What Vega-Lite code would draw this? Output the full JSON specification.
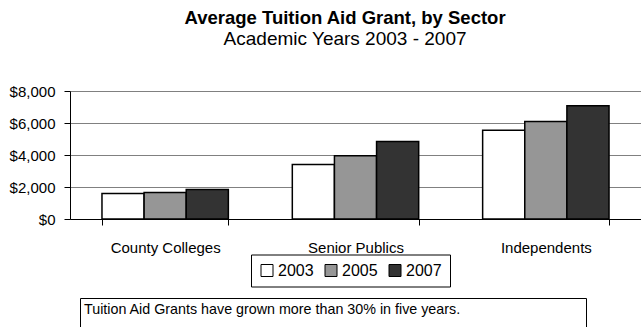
{
  "$schema": "https://vega.github.io/schema/vega-lite/v6.json",
  "padding": {"left": 9, "top": 9, "right": 0, "bottom": 0},
  "background": "white",
  "config": {"font": "Liberation Sans", "view": {"stroke": null}},
  "title": {
    "text": "Average Tuition Aid Grant, by Sector",
    "subtitle": "Academic Years 2003 - 2007",
    "fontSize": 18.5,
    "fontWeight": "bold",
    "subtitleFontSize": 19,
    "subtitleFontWeight": "normal",
    "color": "black",
    "subtitleColor": "black",
    "anchor": "middle",
    "offset": 35.5,
    "subtitlePadding": 2,
    "dx": 20
  },
  "center": false,
  "spacing": 41,
  "vconcat": [
    {
      "width": 571,
      "height": 128,
      "data": {
        "values": [
          {"sector": "County Colleges", "year": "2003", "grant": 1600},
          {"sector": "County Colleges", "year": "2005", "grant": 1650},
          {"sector": "County Colleges", "year": "2007", "grant": 1850},
          {"sector": "Senior Publics", "year": "2003", "grant": 3400},
          {"sector": "Senior Publics", "year": "2005", "grant": 3950},
          {"sector": "Senior Publics", "year": "2007", "grant": 4850},
          {"sector": "Independents", "year": "2003", "grant": 5550},
          {"sector": "Independents", "year": "2005", "grant": 6100},
          {"sector": "Independents", "year": "2007", "grant": 7080}
        ]
      },
      "mark": {"type": "bar", "stroke": "black", "strokeWidth": 1.5},
      "encoding": {
        "x": {
          "field": "sector",
          "type": "nominal",
          "sort": ["County Colleges", "Senior Publics", "Independents"],
          "scale": {"paddingInner": 0.336, "paddingOuter": 0.168},
          "axis": {
            "title": null,
            "labelAngle": 0,
            "tickBand": "extent",
            "domainColor": "black",
            "tickColor": "black",
            "tickSize": 6,
            "labelFontSize": 15,
            "labelColor": "black",
            "labelPadding": 15.5,
            "grid": false
          }
        },
        "xOffset": {
          "field": "year",
          "type": "nominal",
          "sort": ["2003", "2005", "2007"],
          "scale": {"paddingInner": 0, "paddingOuter": 0}
        },
        "y": {
          "field": "grant",
          "type": "quantitative",
          "scale": {"domain": [0, 8000]},
          "axis": {
            "title": null,
            "values": [0, 2000, 4000, 6000, 8000],
            "format": "$,.0f",
            "grid": true,
            "gridColor": "#808080",
            "domainColor": "black",
            "tickColor": "black",
            "tickSize": 6,
            "labelPadding": 9,
            "labelFontSize": 15,
            "labelColor": "black"
          }
        },
        "color": {
          "field": "year",
          "type": "nominal",
          "scale": {"domain": ["2003", "2005", "2007"], "range": ["#ffffff", "#969696", "#333333"]},
          "legend": {
            "title": null,
            "orient": "none",
            "legendX": 181,
            "legendY": 163.5,
            "direction": "horizontal",
            "symbolType": "square",
            "symbolSize": 144,
            "symbolStrokeColor": "black",
            "symbolStrokeWidth": 1,
            "symbolOpacity": 1,
            "labelFontSize": 16,
            "labelColor": "black",
            "labelOffset": 3,
            "strokeColor": "black",
            "fillColor": "white",
            "padding": 8,
            "columnPadding": 9
          }
        }
      }
    },
    {
      "spacing": 8,
      "hconcat": [
        {
          "width": 1,
          "height": 29,
          "data": {"values": []},
          "mark": "text",
          "encoding": {}
        },
        {
          "width": 506,
          "height": 29,
          "view": {"stroke": "black", "strokeWidth": 1},
          "data": {"values": [{"note": "Tuition Aid Grants have grown more than 30% in five years.", "pos": 0}]},
          "mark": {"type": "text", "align": "left", "baseline": "middle", "fontSize": 14.3, "dx": 4, "dy": -3, "color": "black"},
          "encoding": {
            "x": {"field": "pos", "type": "quantitative", "scale": {"domain": [0, 1]}, "axis": null},
            "text": {"field": "note"}
          }
        }
      ]
    }
  ]
}
